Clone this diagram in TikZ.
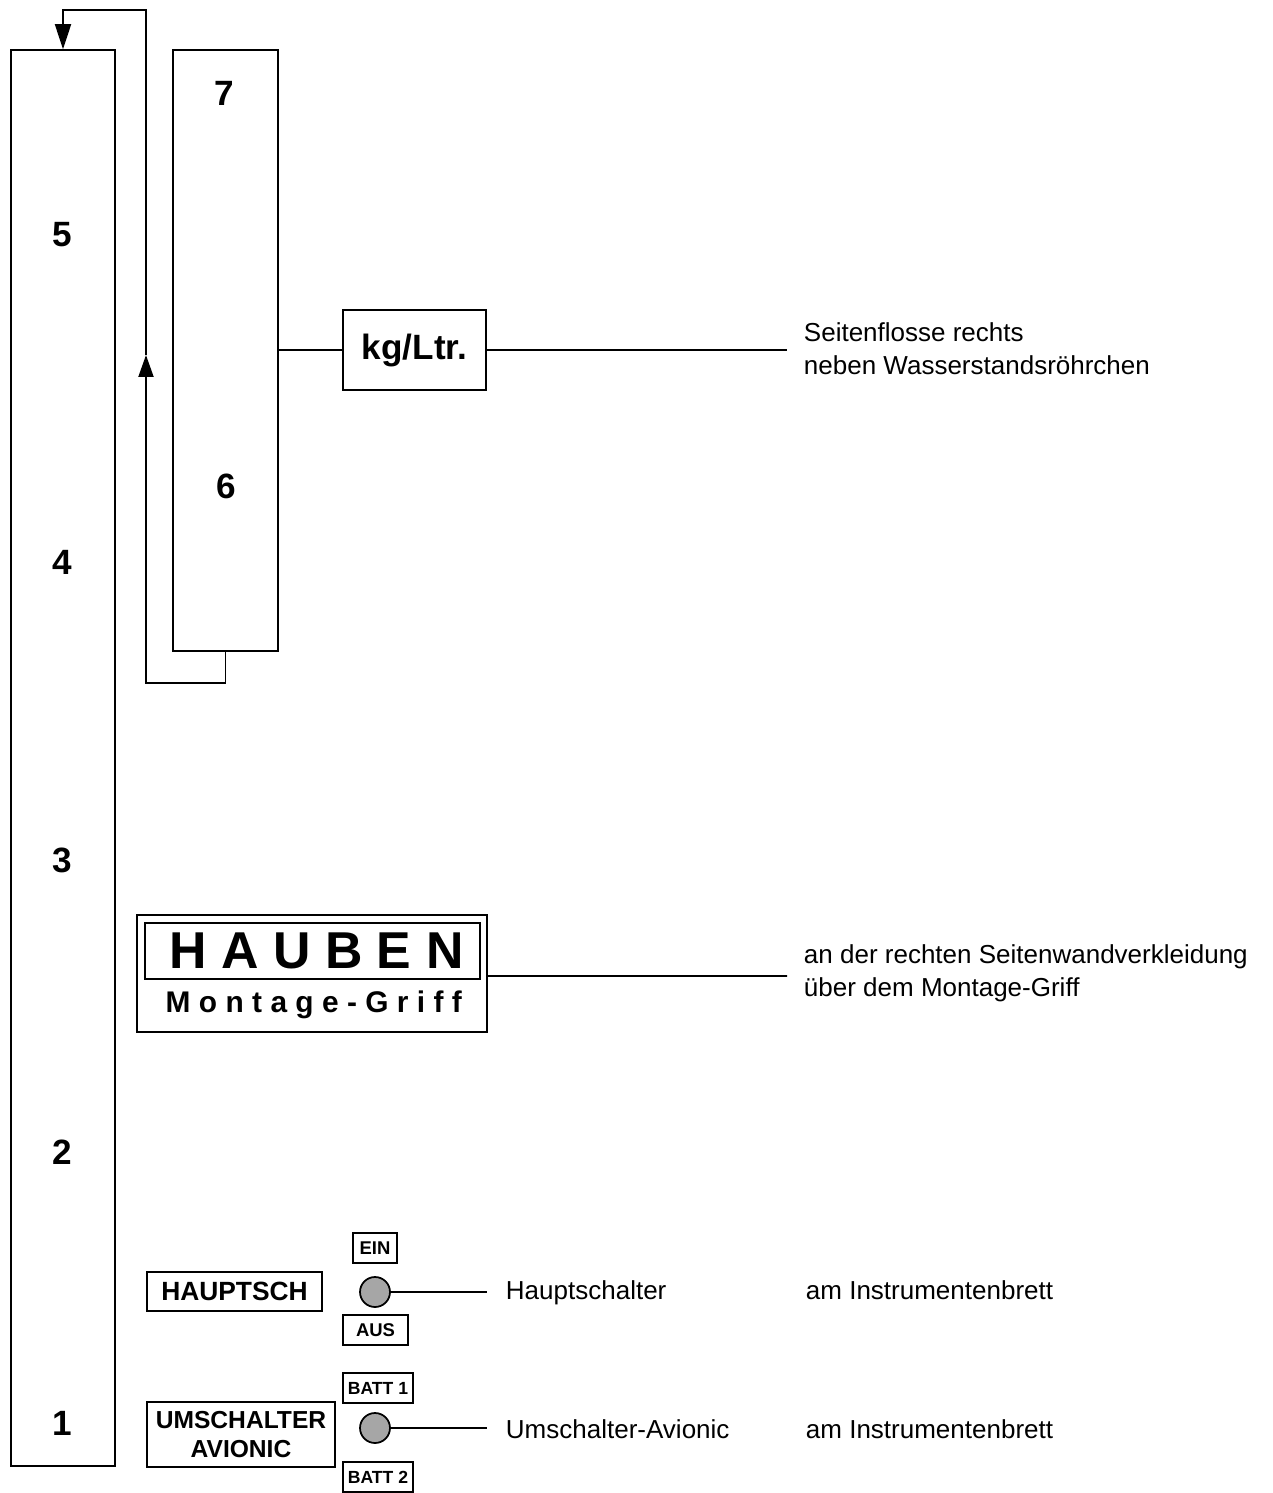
\documentclass[tikz,border=0pt]{standalone}
\usepackage{fontspec}
\setmainfont{Liberation Sans}
\newfontfamily\spacedfont[LetterSpace=28]{Liberation Sans}
\usetikzlibrary{arrows.meta,positioning}

\begin{document}
\begin{tikzpicture}[
    x=0.02cm,y=-0.02cm,line width=1.1pt,
    box/.style={draw,line width=1.1pt,inner sep=0pt},
    num/.style={font=\fontsize{20}{24}\selectfont\bfseries},
    lbl/.style={anchor=west,align=left,inner sep=0pt,
      font=\fontsize{14.8}{18.6}\selectfont},
    line lbl/.style={anchor=base west,inner sep=0pt,
      font=\fontsize{14.8}{18.6}\selectfont},
    tag/.style={draw,line width=1pt,inner sep=0pt,minimum height=0.6cm,
      font=\fontsize{10.5}{12}\selectfont\bfseries},
    knob/.style={circle,draw,line width=1pt,fill=gray!70,minimum size=0.6cm,inner sep=0pt},
  ]
    \useasboundingbox (0,0) rectangle (1273,1493);

    % tall bar and column
    \node[box,minimum width=2.08cm,minimum height=28.32cm] (bar) at (63,758) {};
    \node[box,minimum width=2.1cm,minimum height=12.02cm] (col) at (225.5,350.5) {};
    \node[num] (n5) at (62,235) {5};
    \node[num] (n4) at (62,562) {4};
    \node[num] (n3) at (62,860) {3};
    \node[num] (n2) at (62,1152) {2};
    \node[num] (n1) at (62,1423) {1};
    \node[num] (n7) at (224,93) {7};
    \node[num] (n6) at (226,486) {6};

    % return loop
    \coordinate (lo) at (146,683);
    \coordinate (mid) at (146,355);
    \coordinate (hi) at (146,10);
    \draw[-{Triangle[length=0.44cm,width=0.3cm]}] (col.south) |- (lo) -- (mid);
    \draw[-{Triangle[length=0.5cm,width=0.32cm]}] (mid) -- (hi) -| (bar.north);

    % kg/Ltr
    \node[box,minimum width=2.86cm,minimum height=1.6cm,
      font=\fontsize{20}{24}\selectfont\bfseries] (kg) at (414.5,350) {kg/Ltr.};
    \coordinate (kgend) at (787,350);
    \draw (col.east |- kg.west) -- (kg.west);
    \draw (kg.east) -- (kgend);
    \node[lbl] (kgtxt) at (803,349) {Seitenflosse rechts\\neben Wasserstandsröhrchen};

    % Hauben
    \node[box,minimum width=7cm,minimum height=2.34cm] (haube) at (312,973.5) {};
    \node[box,minimum width=6.7cm,minimum height=1.12cm,
      font=\fontsize{29.5}{32}\spacedfont\bfseries] (haubein) at (312.5,951) {\hspace{0.15em}HAUBEN};
    \node[font=\fontsize{17}{20}\spacedfont\bfseries] (griff) at (312,1005) {\hspace{0.12em}Montage-Griff};
    \coordinate (haubend) at (787,976);
    \draw ([yshift=-0.05cm]haube.east) -- (haubend);
    \node[lbl] (haubtxt) at (803,973) {an der rechten Seitenwandverkleidung\\über dem Montage-Griff};

    % Hauptschalter
    \node[box,minimum width=3.5cm,minimum height=0.78cm,
      font=\fontsize{15}{18}\selectfont\bfseries] (haupt) at (234.5,1291.5) {HAUPTSCH};
    \node[tag,minimum width=0.88cm] (ein) at (375,1248) {EIN};
    \node[knob] (sw1) at (375,1292) {};
    \node[tag,minimum width=1.3cm] (aus) at (375.5,1330) {AUS};
    \coordinate (sw1end) at (487,1292);
    \draw (sw1.east) -- (sw1end);
    \node[line lbl] (sw1txt) at (505,1299) {Hauptschalter};
    \node[line lbl] (sw1ort) at (805,1299) {am Instrumentenbrett};

    % Umschalter Avionic
    \node[box,minimum width=3.76cm,minimum height=1.3cm,align=center,
      font=\fontsize{14}{17}\selectfont\bfseries] (umsch) at (241,1434.5) {UMSCHALTER\\AVIONIC};
    \node[tag,minimum width=1.4cm,font=\fontsize{10}{12}\selectfont\bfseries] (batt1) at (378,1388) {BATT 1};
    \node[knob] (sw2) at (375,1428) {};
    \node[tag,minimum width=1.4cm,font=\fontsize{10}{12}\selectfont\bfseries] (batt2) at (378,1477) {BATT 2};
    \coordinate (sw2end) at (487,1428);
    \draw (sw2.east) -- (sw2end);
    \node[line lbl] (sw2txt) at (505,1438) {Umschalter-Avionic};
    \node[line lbl] (sw2ort) at (805,1438) {am Instrumentenbrett};
  \end{tikzpicture}
\end{document}
